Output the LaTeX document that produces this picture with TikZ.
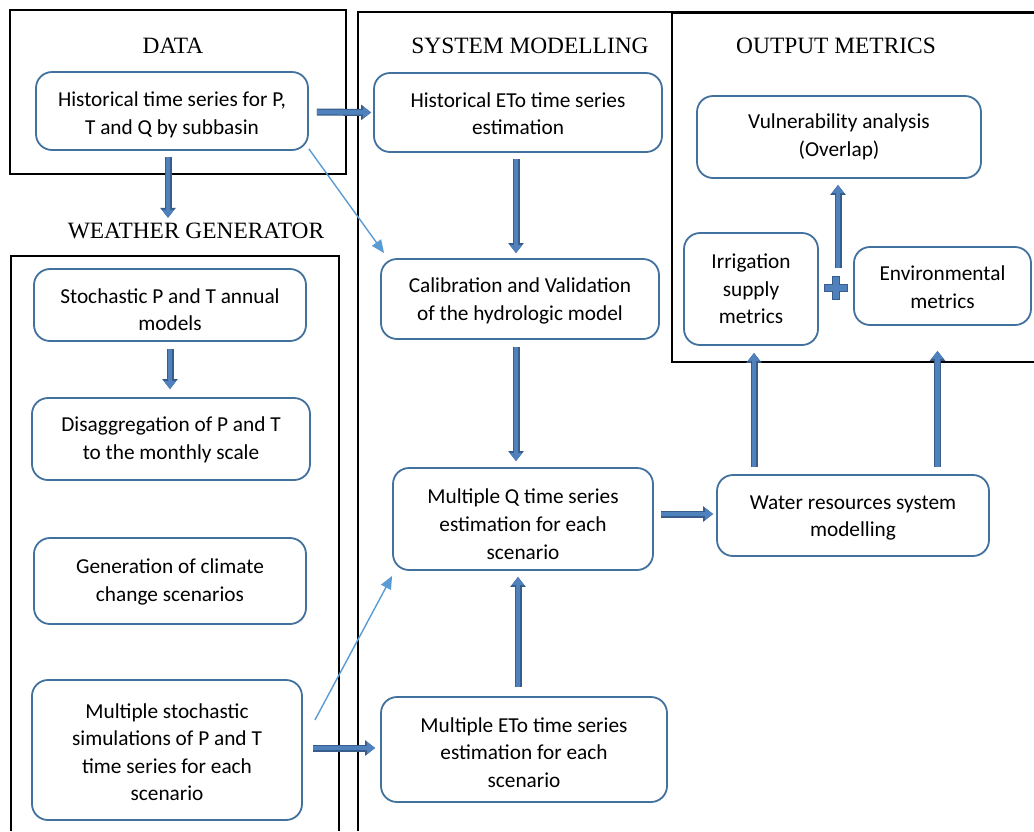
\documentclass[tikz,border=0pt]{standalone}
\usepackage{fontspec}
\setmainfont{Carlito}
\newfontfamily\titlefont{Liberation Serif}
\usetikzlibrary{arrows.meta,calc}
\definecolor{boxblue}{HTML}{41719C}
\definecolor{arrfill}{HTML}{4F81BD}
\definecolor{arrdark}{HTML}{385D8A}
\definecolor{thinblue}{HTML}{5B9BD5}
\newcommand{\fstrut}[1]{\rule{0pt}{#1pt}}
\tikzset{
  rbox/.style={draw=boxblue, line width=1.8pt, rounded corners=16pt, align=center, inner sep=0pt,
    font=\fontsize{21.3}{27.6}\selectfont},
  ttl/.style={font=\titlefont\fontsize{23.4}{26}\selectfont, inner sep=0pt},
  frame/.style={draw=black, line width=1.8pt},
  blk/.style={draw=arrdark, line width=7pt, -{Triangle[length=10pt,width=15pt]},
    postaction={draw=arrfill, line width=4.6pt, -{Triangle[length=8pt,width=11.5pt]}}},
  thin/.style={draw=thinblue, line width=1.4pt, -{Triangle[length=13pt,width=11pt]}}
}
\begin{document}
\begin{tikzpicture}[x=1pt,y=-1pt]
\useasboundingbox (0,0) rectangle (1034,831);
% frames
\draw[frame] (10,10) rectangle (346,174);
\draw[frame] (358,831) -- (358,12) -- (1034,12);
\draw[frame] (11,831) -- (11,256) -- (339,256) -- (339,831);
\draw[frame] (1034,362) -- (672,362) -- (672,12);
\draw[draw=black, line width=3pt] (672,12) -- (1034,12);
% titles
\node[ttl] (tdata) at (173,46) {DATA};
\node[ttl] (tsys) at (530,46) {SYSTEM MODELLING};
\node[ttl] (tout) at (836,46) {OUTPUT METRICS};
\node[ttl] (twg) at (196,231) {WEATHER GENERATOR};
% boxes
\node[rbox, minimum width=272pt, minimum height=78pt] (hts) at (172,111) {\fstrut{22}Historical time series for P,\\T and Q by subbasin};
\node[rbox, minimum width=288pt, minimum height=79pt] (heto) at (518,112.5) {\fstrut{17}Historical ETo time series\\estimation};
\node[rbox, minimum width=278pt, minimum height=80pt] (cal) at (520,299) {\fstrut{19}Calibration and Validation\\of the hydrologic model};
\node[rbox, minimum width=272pt, minimum height=72pt] (stoch) at (170,305) {\fstrut{24}Stochastic P and T annual\\models};
\node[rbox, minimum width=278pt, minimum height=82pt] (disagg) at (171,439) {\fstrut{17}Disaggregation of P and T\\to the monthly scale};
\node[rbox, minimum width=272pt, minimum height=86pt] (gen) at (170,581) {\fstrut{17}Generation of climate\\change scenarios};
\node[rbox, minimum width=270pt, minimum height=140pt] (ms) at (167,750) {\fstrut{19}Multiple stochastic\\simulations of P and T\\time series for each\\scenario};
\node[rbox, minimum width=260pt, minimum height=102pt] (mq) at (523,519) {\fstrut{25}Multiple Q time series\\estimation for each\\scenario};
\node[rbox, minimum width=286pt, minimum height=105pt] (meto) at (524,749.5) {\fstrut{21}Multiple ETo time series\\estimation for each\\scenario};
\node[rbox, minimum width=272pt, minimum height=81pt] (water) at (853,515.5) {\fstrut{19}Water resources system\\modelling};
\node[rbox, minimum width=284pt, minimum height=82pt] (vuln) at (839,137) {Vulnerability analysis\\(Overlap)};
\node[rbox, minimum width=134pt, minimum height=112pt] (irr) at (751,289) {Irrigation\\supply\\metrics};
\node[rbox, minimum width=177pt, minimum height=78pt] (env) at (942.5,286) {\fstrut{17}Environmental\\metrics};
% plus sign
\node[minimum size=24pt, inner sep=0pt] (plus) at (836,288) {};
\draw[fill=arrfill, draw=arrdark, line width=0.8pt]
  ($(plus)+(-3.5,-11.5)$) -- ($(plus)+(3.5,-11.5)$) -- ($(plus)+(3.5,-3.5)$) -- ($(plus)+(11.5,-3.5)$)
  -- ($(plus)+(11.5,3.5)$) -- ($(plus)+(3.5,3.5)$) -- ($(plus)+(3.5,11.5)$) -- ($(plus)+(-3.5,11.5)$)
  -- ($(plus)+(-3.5,3.5)$) -- ($(plus)+(-11.5,3.5)$) -- ($(plus)+(-11.5,-3.5)$) -- ($(plus)+(-3.5,-3.5)$) -- cycle;
% block arrows
\draw[blk] ($(hts.east)+(8,1)$) -- ($(heto.west)+(-2,0)$);
\draw[blk] ($(hts.south)+(-4,6)$) -- ($(twg.north -| hts.south)+(-4,-5)$);
\draw[blk] ($(heto.south)+(-2,6)$) -- ($(cal.north)+(-4,-5)$);
\draw[blk] ($(cal.south)+(-4,7)$) -- ($(cal.south |- mq.north)+(-4,-6)$);
\draw[blk] ($(stoch.south)+(0,7)$) -- ($(disagg.north)+(-1,-8)$);
\draw[blk] ($(meto.north)+(-6,-9)$) -- ($(meto.north |- mq.south)+(-6,6)$);
\draw[blk] ($(mq.east)+(7,-5)$) -- ($(water.west)+(-3,-1.5)$);
\draw[blk] ($(water.north -| irr.south)+(3,-7)$) -- ($(irr.south)+(3,7)$);
\draw[blk] ($(water.north -| env.south)+(-5,-7)$) -- ($(env.south)+(-5,25)$);
\draw[blk] ($(plus.north)+(2,-8)$) -- ($(plus.north |- vuln.south)+(2,6)$);
\draw[blk] ($(ms.east)+(10,-2)$) -- ($(meto.west)+(-5,-1.5)$);
% thin arrows
\draw[thin] ($(hts.south east)+(0,-2)$) -- ($(cal.north west)+(4,-5)$);
\coordinate (msout) at ($(ms.east)+(12,-30)$);
\draw[thin] (msout) -- ($(mq.south west)+(0,5)$);
\end{tikzpicture}
\end{document}
